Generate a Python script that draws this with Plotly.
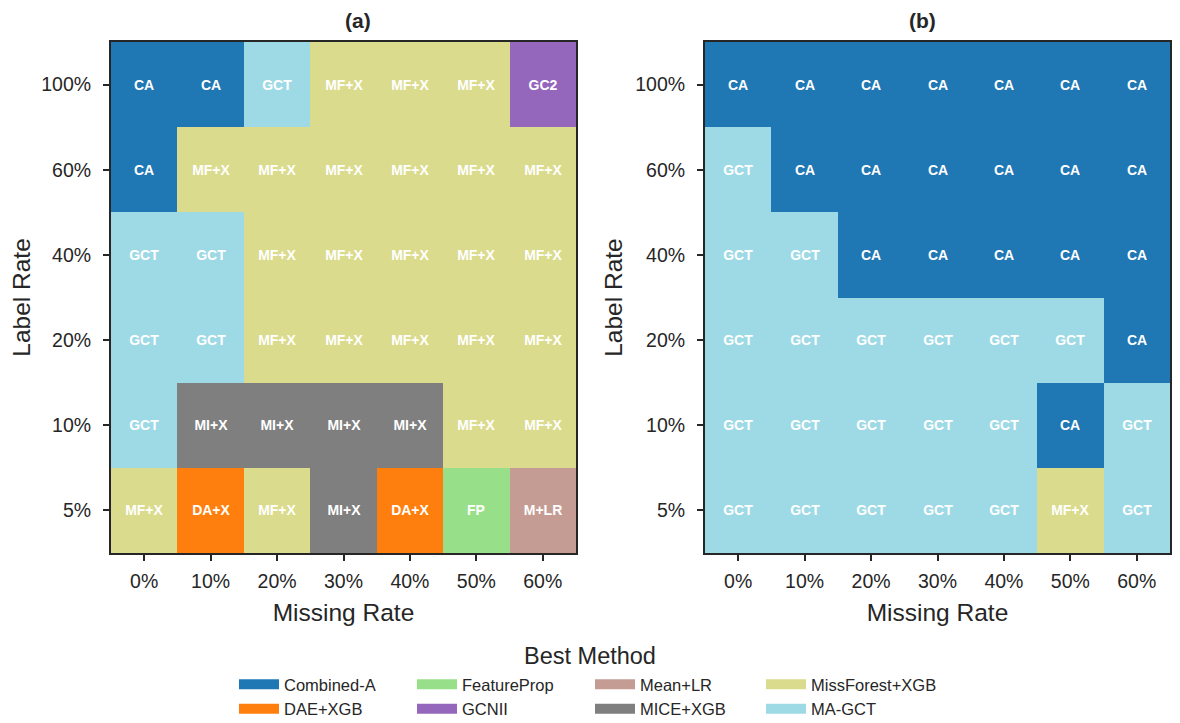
import plotly.graph_objects as go

missing_rates = ["0%", "10%", "20%", "30%", "40%", "50%", "60%"]
label_rates = ["5%", "10%", "20%", "40%", "60%", "100%"]  # bottom to top

methods = ["Combined-A", "DAE+XGB", "FeatureProp", "GCNII", "Mean+LR", "MICE+XGB", "MissForest+XGB", "MA-GCT"]
short = {"Combined-A": "CA", "DAE+XGB": "DA+X", "FeatureProp": "FP", "GCNII": "GC2",
         "Mean+LR": "M+LR", "MICE+XGB": "MI+X", "MissForest+XGB": "MF+X", "MA-GCT": "GCT"}
colors = {"Combined-A": "#1f77b4", "DAE+XGB": "#ff7f0e", "FeatureProp": "#98df8a", "GCNII": "#9467bd",
          "Mean+LR": "#c49c94", "MICE+XGB": "#7f7f7f", "MissForest+XGB": "#dbdb8d", "MA-GCT": "#9edae5"}

# rows bottom (5%) to top (100%)
best_a = [
    ["MissForest+XGB", "DAE+XGB", "MissForest+XGB", "MICE+XGB", "DAE+XGB", "FeatureProp", "Mean+LR"],
    ["MA-GCT", "MICE+XGB", "MICE+XGB", "MICE+XGB", "MICE+XGB", "MissForest+XGB", "MissForest+XGB"],
    ["MA-GCT", "MA-GCT", "MissForest+XGB", "MissForest+XGB", "MissForest+XGB", "MissForest+XGB", "MissForest+XGB"],
    ["MA-GCT", "MA-GCT", "MissForest+XGB", "MissForest+XGB", "MissForest+XGB", "MissForest+XGB", "MissForest+XGB"],
    ["Combined-A", "MissForest+XGB", "MissForest+XGB", "MissForest+XGB", "MissForest+XGB", "MissForest+XGB", "MissForest+XGB"],
    ["Combined-A", "Combined-A", "MA-GCT", "MissForest+XGB", "MissForest+XGB", "MissForest+XGB", "GCNII"],
]
best_b = [
    ["MA-GCT", "MA-GCT", "MA-GCT", "MA-GCT", "MA-GCT", "MissForest+XGB", "MA-GCT"],
    ["MA-GCT", "MA-GCT", "MA-GCT", "MA-GCT", "MA-GCT", "Combined-A", "MA-GCT"],
    ["MA-GCT", "MA-GCT", "MA-GCT", "MA-GCT", "MA-GCT", "MA-GCT", "Combined-A"],
    ["MA-GCT", "MA-GCT", "Combined-A", "Combined-A", "Combined-A", "Combined-A", "Combined-A"],
    ["MA-GCT", "Combined-A", "Combined-A", "Combined-A", "Combined-A", "Combined-A", "Combined-A"],
    ["Combined-A", "Combined-A", "Combined-A", "Combined-A", "Combined-A", "Combined-A", "Combined-A"],
]

FONT = "Liberation Sans, Arial, sans-serif"
INK = "#262626"
OFF = 8  # default page body margin
W, H = 1180 - 2 * OFF, 723 - OFF - 1


def px(x):
    return (x - OFF) / W


def py(y):
    return 1 - (y - OFF) / H


n = len(methods)
cs = []
for i, m in enumerate(methods):
    cs.append([i / n, colors[m]])
    cs.append([(i + 1) / n, colors[m]])

fig = go.Figure()


def add_panel(best, xa, ya):
    z = [[methods.index(v) for v in row] for row in best]
    txt = [[short[v] for v in row] for row in best]
    fig.add_trace(go.Heatmap(
        z=z, x=list(range(len(missing_rates))), y=list(range(len(label_rates))),
        text=txt, texttemplate="%{text}",
        textfont=dict(family=FONT, size=14, color="white", weight="bold"),
        colorscale=cs, zmin=-0.5, zmax=n - 0.5, showscale=False, hoverinfo="skip",
        xaxis=xa, yaxis=ya))


add_panel(best_a, "x", "y")
add_panel(best_b, "x2", "y2")

# legend dummy traces: 4 columns, each a separate legend
cols = [["Combined-A", "DAE+XGB"], ["FeatureProp", "GCNII"], ["Mean+LR", "MICE+XGB"], ["MissForest+XGB", "MA-GCT"]]
leg_x = [234, 412, 590, 761]
for ci, col in enumerate(cols):
    lname = "legend" if ci == 0 else f"legend{ci+1}"
    for m in col:
        fig.add_trace(go.Scatter(x=[None], y=[None], mode="lines", name=m,
                                 line=dict(color=colors[m], width=14),
                                 legend=lname, showlegend=True, hoverinfo="skip"))

legend_common = dict(orientation="v", xanchor="left", yanchor="top", bgcolor="rgba(0,0,0,0)",
                     font=dict(family=FONT, size=16.5, color=INK), itemwidth=40, tracegroupgap=0,
                     traceorder="normal")
layout_legends = {}
for ci in range(4):
    lname = "legend" if ci == 0 else f"legend{ci+1}"
    layout_legends[lname] = dict(legend_common, x=px(leg_x[ci]), y=py(667))

axis_common = dict(showline=True, mirror=True, linecolor=INK, linewidth=2, ticks="outside",
                   ticklen=6, tickwidth=1.5, tickcolor=INK, showgrid=False, zeroline=False,
                   automargin=False, tickfont=dict(family=FONT, size=19.5, color=INK))
xaxis_extra = dict(ticklabelstandoff=4)
yaxis_extra = dict(ticklabelstandoff=8)

title_font = dict(family=FONT, size=24.5, color=INK)
fig.update_layout(
    width=W, height=H, margin=dict(l=0, r=0, t=0, b=0, autoexpand=False),
    plot_bgcolor="white", paper_bgcolor="white",
    xaxis=dict(axis_common, **xaxis_extra, domain=[px(111), px(576)], range=[-0.5, 6.5], anchor="y",
               tickvals=list(range(7)), ticktext=missing_rates,
               title=dict(text="Missing Rate", font=title_font, standoff=12)),
    yaxis=dict(axis_common, **yaxis_extra, domain=[py(553), py(42)], range=[-0.5, 5.5], anchor="x",
               tickvals=list(range(6)), ticktext=label_rates,
               title=dict(text="Label Rate", font=title_font, standoff=6)),
    xaxis2=dict(axis_common, **xaxis_extra, domain=[px(705), px(1170)], range=[-0.5, 6.5], anchor="y2",
                tickvals=list(range(7)), ticktext=missing_rates,
                title=dict(text="Missing Rate", font=title_font, standoff=12)),
    yaxis2=dict(axis_common, **yaxis_extra, domain=[py(553), py(42)], range=[-0.5, 5.5], anchor="x2",
                tickvals=list(range(6)), ticktext=label_rates,
                title=dict(text="Label Rate", font=title_font, standoff=6)),
    annotations=[
        dict(text="<b>(a)</b>", x=px((111 + 576) / 2), y=py(20), xref="paper", yref="paper",
             yanchor="middle", showarrow=False, font=dict(family=FONT, size=21, color=INK)),
        dict(text="<b>(b)</b>", x=px((705 + 1170) / 2), y=py(20), xref="paper", yref="paper",
             yanchor="middle", showarrow=False, font=dict(family=FONT, size=21, color=INK)),
        dict(text="Best Method", x=px(590), y=py(656), xref="paper", yref="paper",
             yanchor="middle", showarrow=False, font=dict(family=FONT, size=23.5, color=INK)),
    ],
    **layout_legends,
)

fig.write_html("out.html")
